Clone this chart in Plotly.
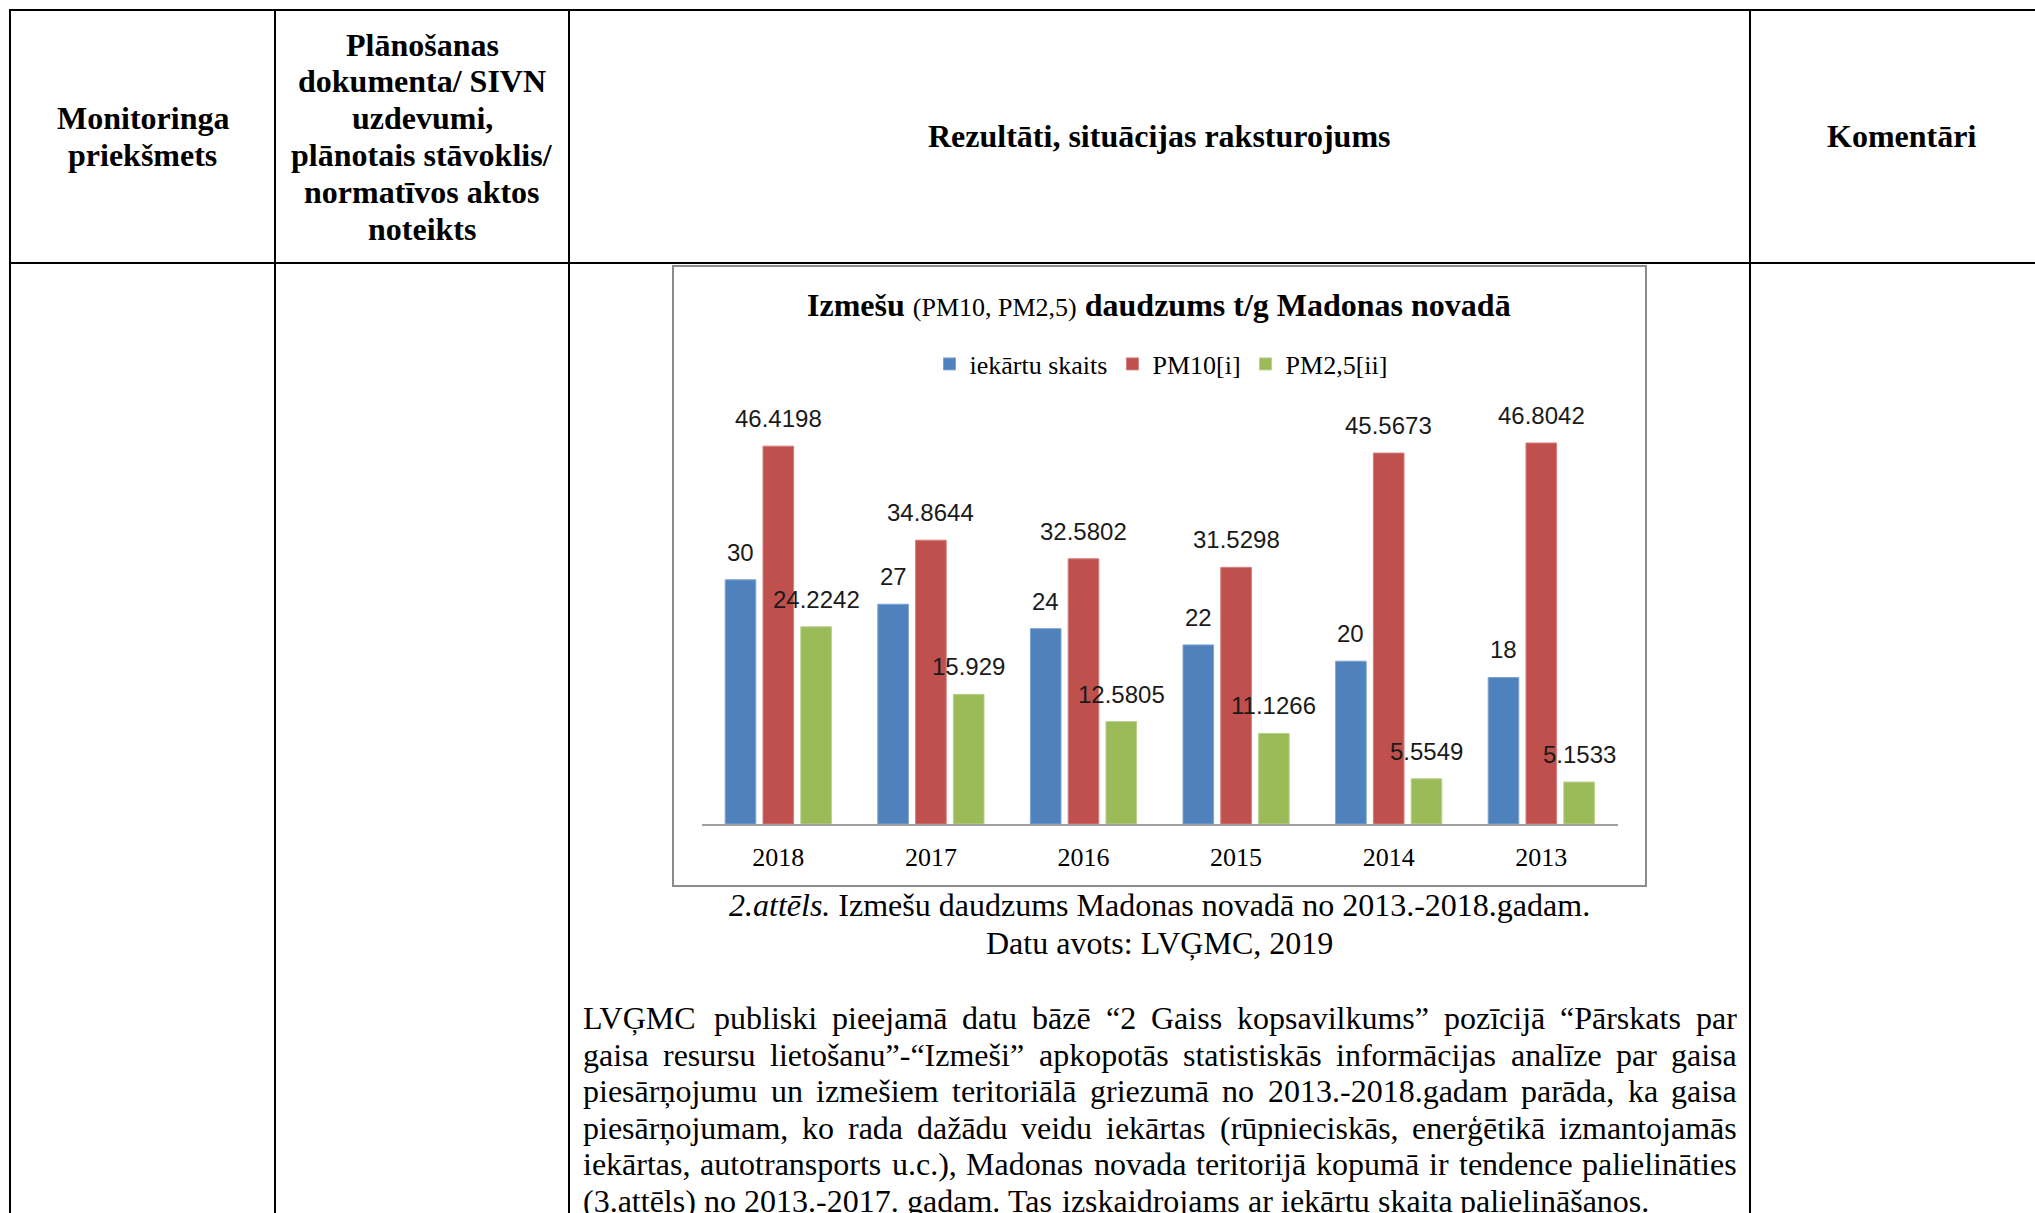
import plotly.graph_objects as go

W, H = 2035, 1213

# ---------------- data ----------------
years = ["2018", "2017", "2016", "2015", "2014", "2013"]
iekartu_skaits = [30, 27, 24, 22, 20, 18]
pm10 = [46.4198, 34.8644, 32.5802, 31.5298, 45.5673, 46.8042]
pm25 = [24.2242, 15.929, 12.5805, 11.1266, 5.5549, 5.1533]
series_names = ["iekārtu skaits", "PM10[i]", "PM2,5[ii]"]
series_values = [iekartu_skaits, pm10, pm25]
series_colors = ["#4F81BD", "#C0504D", "#9BBB59"]
edge_colors = ["#7FA3D0", "#D17F7C", "#B9D08C"]

chart_title = ("<b>Izmešu</b> <span style='font-size:26px'>(PM10, PM2,5)</span> "
               "<b>daudzums t/g Madonas novadā</b>")

col1_lines = ["Monitoringa", "priekšmets"]
col2_lines = ["Plānošanas", "dokumenta/ SIVN", "uzdevumi,", "plānotais stāvoklis/",
              "normatīvos aktos", "noteikts"]
col3_lines = ["Rezultāti, situācijas raksturojums"]
col4_lines = ["Komentāri"]

caption_lines = ["<i>2.attēls.</i> Izmešu daudzums Madonas novadā no 2013.-2018.gadam.",
                 "Datu avots: LVĢMC, 2019"]

paragraph_lines = [
    "LVĢMC publiski pieejamā datu bāzē “2 Gaiss kopsavilkums” pozīcijā “Pārskats par",
    "gaisa resursu lietošanu”-“Izmeši” apkopotās statistiskās informācijas analīze par gaisa",
    "piesārņojumu un izmešiem teritoriālā griezumā no 2013.-2018.gadam parāda, ka gaisa",
    "piesārņojumam, ko rada dažādu veidu iekārtas (rūpnieciskās, enerģētikā izmantojamās",
    "iekārtas, autotransports u.c.), Madonas novada teritorijā kopumā ir tendence palielināties",
    "(3.attēls) no 2013.-2017. gadam. Tas izskaidrojams ar iekārtu skaita palielināšanos.",
]

# ---------------- helpers ----------------
def X(px):
    return px / W


def Y(py):
    return 1 - py / H


SERIF = "Liberation Serif"

# Times / Liberation Serif advance widths (per 1000 em)
TW = {' ': 250, '(': 333, ')': 333, ',': 250, '.': 250, '-': 333, '/': 278, ':': 278,
      '“': 444, '”': 444, '"': 408,
      'a': 444, 'b': 500, 'c': 444, 'd': 500, 'e': 444, 'f': 333, 'g': 500, 'h': 500,
      'i': 278, 'j': 278, 'k': 500, 'l': 278, 'm': 778, 'n': 500, 'o': 500, 'p': 500,
      'q': 500, 'r': 333, 's': 389, 't': 278, 'u': 500, 'v': 500, 'w': 722, 'x': 500,
      'y': 500, 'z': 444,
      'A': 722, 'B': 667, 'C': 667, 'D': 722, 'E': 611, 'F': 556, 'G': 722, 'H': 722,
      'I': 333, 'J': 389, 'K': 722, 'L': 611, 'M': 889, 'N': 722, 'O': 722, 'P': 556,
      'Q': 722, 'R': 667, 'S': 556, 'T': 611, 'U': 722, 'V': 722, 'W': 944, 'X': 722,
      'Y': 722, 'Z': 611}
for d in "0123456789":
    TW[d] = 500
BASE = {'ā': 'a', 'ē': 'e', 'ī': 'i', 'ū': 'u', 'š': 's', 'ž': 'z', 'ņ': 'n', 'ģ': 'g',
        'ķ': 'k', 'ļ': 'l', 'č': 'c', 'Ģ': 'G', 'Ņ': 'N', 'Š': 'S', 'Ā': 'A', 'Ē': 'E',
        'Ī': 'I', 'Ū': 'U', 'Ž': 'Z', 'Č': 'C', 'Ķ': 'K', 'Ļ': 'L'}


def text_width(s, size):
    return sum(TW.get(BASE.get(c, c), 500) for c in s) * size / 1000.0


# ---------------- layout geometry (pixels) ----------------
plot_left, plot_right = 702, 1617.6
plot_bottom, plot_top = 824, 390
px_per_unit = 8.14
y_max = (plot_bottom - plot_top) / px_per_unit
bargap = 0.257
bargroupgap = 0.19
slot = (1 - bargap) / 3

fig = go.Figure()
for name, vals, col, edge in zip(series_names, series_values, series_colors, edge_colors):
    fig.add_trace(go.Bar(
        name=name, x=years, y=vals,
        marker=dict(color=col, line=dict(color=edge, width=1)),
        hoverinfo="skip",
    ))

annotations = []

# data labels
for k, vals in enumerate(series_values):
    for i, v in enumerate(vals):
        annotations.append(dict(
            x=i + (k - 1) * slot, y=v, xref="x", yref="y",
            text=str(v), showarrow=False, xanchor="center", yanchor="bottom",
            yshift=13, borderpad=0,
            font=dict(family="Liberation Sans", size=24, color="#1a1a1a"),
        ))

# chart title
annotations.append(dict(
    x=X(1159), y=Y(305), xref="paper", yref="paper", text=chart_title,
    showarrow=False, xanchor="center", yanchor="middle",
    font=dict(family=SERIF, size=32, color="black"),
))

# header cells
header_center_y = 136.5
line_pitch = 36.8
for lines, cx in [(col1_lines, 142.5), (col2_lines, 422), (col3_lines, 1159.5),
                  (col4_lines, 1901)]:
    n = len(lines)
    for j, t in enumerate(lines):
        cy = header_center_y + (j - (n - 1) / 2) * line_pitch
        annotations.append(dict(
            x=X(cx), y=Y(cy), xref="paper", yref="paper", text="<b>" + t + "</b>",
            showarrow=False, xanchor="center", yanchor="middle", borderpad=0,
            font=dict(family=SERIF, size=32, color="black"),
        ))

# caption
for j, t in enumerate(caption_lines):
    annotations.append(dict(
        x=X(1159.5), y=Y(905 + j * 37.5), xref="paper", yref="paper", text=t,
        showarrow=False, xanchor="center", yanchor="middle", borderpad=0,
        font=dict(family=SERIF, size=32, color="black"),
    ))

# justified paragraph
par_left, par_right = 582, 1736
par_top = 1018
par_pitch = 36.6
fs = 32
for j, line in enumerate(paragraph_lines):
    cy = par_top + j * par_pitch
    words = line.split(" ")
    widths = [text_width(w, fs) for w in words]
    last = (j == len(paragraph_lines) - 1)
    if last or len(words) < 2:
        gap = text_width(" ", fs)
    else:
        gap = (par_right - par_left - sum(widths)) / (len(words) - 1)
    xpos = par_left
    for w, wd in zip(words, widths):
        annotations.append(dict(
            x=X(xpos), y=Y(cy), xref="paper", yref="paper", text=w,
            showarrow=False, xanchor="left", yanchor="middle", borderpad=0,
            font=dict(family=SERIF, size=fs, color="black"),
        ))
        xpos += wd + gap

# table lines and chart frame
shapes = []
black = dict(color="black", width=2)
for yy in (10, 263):
    shapes.append(dict(type="line", xref="paper", yref="paper",
                       x0=X(10), x1=X(W + 5), y0=Y(yy), y1=Y(yy), line=black))
for xx in (10, 275, 569, 1750):
    shapes.append(dict(type="line", xref="paper", yref="paper",
                       x0=X(xx), x1=X(xx), y0=Y(9), y1=Y(H + 5), line=black))
shapes.append(dict(type="rect", xref="paper", yref="paper",
                   x0=X(673), x1=X(1646), y0=Y(266), y1=Y(886),
                   line=dict(color="#8c8c8c", width=2), fillcolor="rgba(0,0,0,0)"))

fig.update_layout(
    width=W, height=H,
    margin=dict(l=0, r=0, t=0, b=0, pad=0),
    paper_bgcolor="white", plot_bgcolor="white",
    barmode="group", bargap=bargap, bargroupgap=bargroupgap,
    xaxis=dict(domain=[X(plot_left), X(plot_right)], type="category",
               showgrid=False, zeroline=False, showline=True,
               linecolor="#a0a0a0", linewidth=1.5, ticks="",
               tickfont=dict(family=SERIF, size=26, color="black"),
               ticklabelstandoff=9, fixedrange=True),
    yaxis=dict(domain=[Y(plot_bottom), Y(plot_top)], range=[0, y_max],
               visible=False, showgrid=False, zeroline=False, fixedrange=True),
    legend=dict(orientation="h", x=X(1161), xanchor="center",
                y=Y(364), yanchor="middle", bgcolor="rgba(0,0,0,0)",
                font=dict(family=SERIF, size=26, color="black"),
                traceorder="normal", itemwidth=30),
    annotations=annotations,
    shapes=shapes,
    showlegend=True,
)

fig.write_html("out.html", config={"displayModeBar": False},
               post_script="document.body.style.margin='0';document.body.style.overflow='hidden';")
